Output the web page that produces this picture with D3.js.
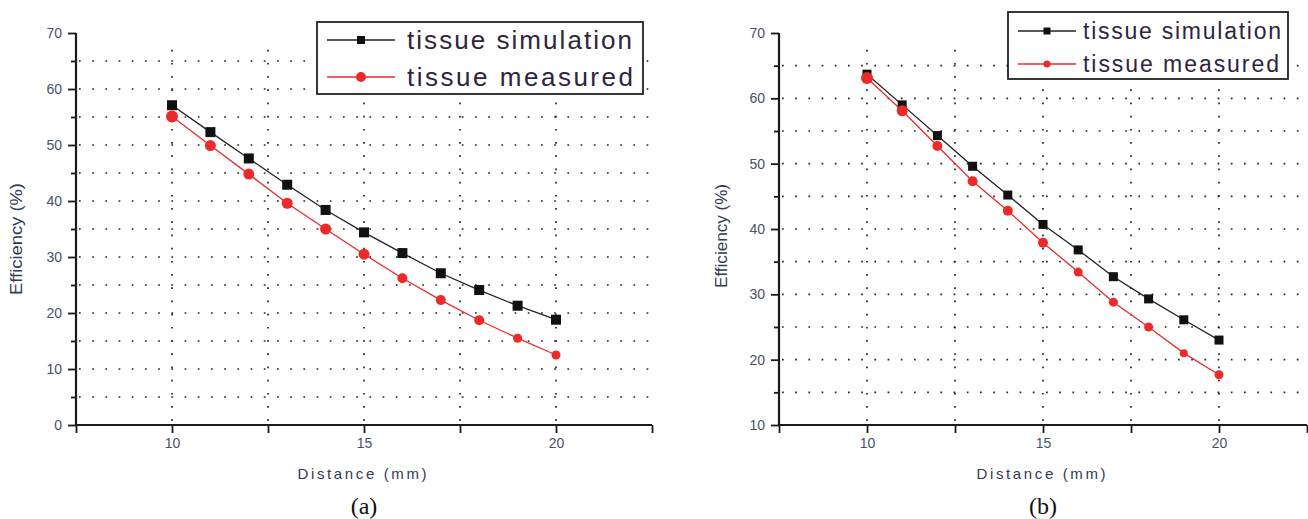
<!DOCTYPE html>
<html>
<head>
<meta charset="utf-8">
<script src="https://cdn.jsdelivr.net/npm/d3@7"></script>
<style>
  body { margin: 0; background: #fff; }
  svg { display: block; }
  .tick text { font-family: "Liberation Sans", Arial, sans-serif; fill: #4a5068; }
</style>
</head>
<body>
<div id="chart"></div>
<script>
// Data
var distance = [10, 11, 12, 13, 14, 15, 16, 17, 18, 19, 20];

// (a)
var simA = [57.1, 52.3, 47.6, 42.9, 38.4, 34.4, 30.7, 27.1, 24.1, 21.3, 18.8];
var measA = [55.1, 49.9, 44.8, 39.6, 35.0, 30.5, 26.2, 22.3, 18.7, 15.5, 12.5];

// (b)
var simB = [63.7, 59.0, 54.3, 49.6, 45.2, 40.7, 36.8, 32.7, 29.3, 26.1, 23.0];
var measB = [63.1, 58.1, 52.7, 47.3, 42.8, 37.9, 33.4, 28.8, 25.0, 21.0, 17.7];

var seriesNames = ["tissue simulation", "tissue measured"];
var xTicks = [7.5, 10, 12.5, 15, 17.5, 20, 22.5];
var xDomain = [7.5, 22.5];

var svgWidth = 1308;
var svgHeight = 519;

var svg = d3.select("#chart")
  .append("svg")
  .attr("width", svgWidth)
  .attr("height", svgHeight);

var red = "#ec2a2a";
var sans = "'Liberation Sans', Arial, sans-serif";

function drawPanel(p) {
  var x = d3.scaleLinear().domain(xDomain).range(p.xRange);
  var y = d3.scaleLinear().domain(p.yDomain).range([425, 33]);
  var g = svg.append("g");

  // dotted grid
  var hVals = d3.range(p.yDomain[0] + 5, 70, 5);
  g.selectAll(".hgrid")
    .data(hVals)
    .enter()
    .append("line")
    .attr("x1", p.xRange[0] + 3)
    .attr("x2", p.xRange[1])
    .attr("y1", d => y(d))
    .attr("y2", d => y(d))
    .attr("stroke", "#222")
    .attr("stroke-width", 1.7)
    .attr("stroke-dasharray", "1.7,11.5");

  g.selectAll(".vgrid")
    .data([10, 12.5, 15, 17.5, 20])
    .enter()
    .append("line")
    .attr("x1", d => x(d))
    .attr("x2", d => x(d))
    .attr("y1", y(p.yDomain[0]) - 4)
    .attr("y2", 43)
    .attr("stroke", "#222")
    .attr("stroke-width", 1.7)
    .attr("stroke-dasharray", "1.7,11.5");

  // axes
  var yAxis = d3.axisLeft(y)
    .tickValues(d3.range(p.yDomain[0], 71, 10))
    .tickSize(8)
    .tickPadding(6)
    .tickFormat(d3.format("d"));
  var yMinor = d3.axisLeft(y)
    .tickValues(d3.range(p.yDomain[0] + 5, 70, 10))
    .tickSize(5)
    .tickFormat("");
  var xAxis = d3.axisBottom(x)
    .tickValues(xTicks)
    .tickSize(8)
    .tickPadding(5)
    .tickFormat(d => d % 5 === 0 ? d : "");

  var ya = g.append("g")
    .attr("transform", `translate(${p.xRange[0]},0)`)
    .call(yAxis);
  var ym = g.append("g")
    .attr("transform", `translate(${p.xRange[0]},0)`)
    .call(yMinor);
  var xa = g.append("g")
    .attr("transform", `translate(0,${y(p.yDomain[0])})`)
    .call(xAxis);

  [ya, ym, xa].forEach(function (a) {
    a.select(".domain").remove();
    a.selectAll(".tick line").attr("stroke", "#1a1a1a").attr("stroke-width", 1.8);
    a.selectAll(".tick text").style("font-size", "14px");
  });
  g.append("line")
    .attr("x1", p.xRange[0]).attr("x2", p.xRange[0])
    .attr("y1", y(70)).attr("y2", y(p.yDomain[0]) + 1)
    .attr("stroke", "#1a1a1a").attr("stroke-width", 2.2);
  g.append("line")
    .attr("x1", p.xRange[0]).attr("x2", p.xRange[1])
    .attr("y1", y(p.yDomain[0])).attr("y2", y(p.yDomain[0]))
    .attr("stroke", "#1a1a1a").attr("stroke-width", 2.2);

  // lines
  var line = d3.line().x((d, i) => x(distance[i])).y(d => y(d));
  g.append("path").datum(p.sim)
    .attr("d", line).attr("fill", "none")
    .attr("stroke", "#222").attr("stroke-width", 1.3);
  g.append("path").datum(p.meas)
    .attr("d", line).attr("fill", "none")
    .attr("stroke", red).attr("stroke-width", 1.3);

  // markers
  g.selectAll(".sq")
    .data(p.sim)
    .enter()
    .append("rect")
    .attr("x", (d, i) => x(distance[i]) - p.sq / 2)
    .attr("y", d => y(d) - p.sq / 2)
    .attr("width", p.sq)
    .attr("height", p.sq)
    .attr("fill", "#111");
  g.selectAll(".dot")
    .data(p.meas)
    .enter()
    .append("circle")
    .attr("cx", (d, i) => x(distance[i]))
    .attr("cy", d => y(d))
    .attr("r", (d, i) => p.dotR[i])
    .attr("fill", red);

  // axis titles
  g.append("text")
    .attr("transform", `translate(${p.xRange[0] - p.yTitle.dx},${p.yTitle.cy}) rotate(-90)`)
    .attr("text-anchor", "middle")
    .attr("textLength", p.yTitle.len)
    .attr("lengthAdjust", "spacingAndGlyphs")
    .style("font-family", sans)
    .style("font-size", "16px")
    .attr("fill", "#333a55")
    .text("Efficiency (%)");
  g.append("text")
    .attr("x", x(15) - 2)
    .attr("y", 479)
    .attr("text-anchor", "middle")
    .attr("textLength", 129)
    .attr("lengthAdjust", "spacing")
    .style("font-family", sans)
    .style("font-size", "15px")
    .attr("fill", "#333a55")
    .text("Distance (mm)");
  g.append("text")
    .attr("x", x(15))
    .attr("y", 514)
    .attr("text-anchor", "middle")
    .style("font-family", "'Liberation Serif', 'Times New Roman', serif")
    .style("font-size", "24px")
    .attr("fill", "#111")
    .text(p.caption);

  // legend
  var L = p.legend;
  g.append("rect")
    .attr("x", L.x).attr("y", L.y)
    .attr("width", L.w).attr("height", L.h)
    .attr("fill", "#fff")
    .attr("stroke", "#222").attr("stroke-width", 1.8);
  seriesNames.forEach(function (name, i) {
    var cy = L.y + L.row0 + i * L.dy;
    var col = i === 0 ? "#222" : red;
    g.append("line")
      .attr("x1", L.x + 10).attr("x2", L.x + 10 + L.lineW)
      .attr("y1", cy).attr("y2", cy)
      .attr("stroke", col).attr("stroke-width", 1.3);
    var mx = L.x + 10 + L.lineW / 2;
    if (i === 0) {
      g.append("rect")
        .attr("x", mx - L.sq / 2).attr("y", cy - L.sq / 2)
        .attr("width", L.sq).attr("height", L.sq)
        .attr("fill", "#111");
    } else {
      g.append("circle").attr("cx", mx).attr("cy", cy).attr("r", L.r).attr("fill", red);
    }
    g.append("text")
      .attr("x", L.x + L.textX)
      .attr("y", cy + L.fs * 0.36)
      .attr("textLength", L.textLen[i])
      .attr("lengthAdjust", "spacing")
      .style("font-family", sans)
      .style("font-size", L.fs + "px")
      .attr("fill", "#2e2440")
      .text(name);
  });
}

drawPanel({
  xRange: [76, 652],
  yDomain: [0, 70],
  sim: simA,
  meas: measA,
  sq: 10,
  dotR: [6, 5.5, 5.5, 5.5, 5.5, 5.5, 5, 5, 5, 4.5, 4.5],
  caption: "(a)",
  yTitle: { dx: 54, cy: 239, len: 112 },
  legend: { x: 317, y: 22, w: 326, h: 72, row0: 18, dy: 37, lineW: 68, sq: 8, r: 5, textX: 90, fs: 26, textLen: [225, 226] }
});

drawPanel({
  xRange: [779, 1307],
  yDomain: [10, 70],
  sim: simB,
  meas: measB,
  sq: 9,
  dotR: [6, 5.5, 5, 5, 5, 5, 4.5, 4.5, 4.5, 4, 4.5],
  caption: "(b)",
  yTitle: { dx: 52, cy: 236, len: 104 },
  legend: { x: 1008, y: 12, w: 280, h: 67, row0: 19, dy: 33, lineW: 58, sq: 7, r: 3.5, textX: 75, fs: 23, textLen: [198, 196] }
});
</script>
</body>
</html>
